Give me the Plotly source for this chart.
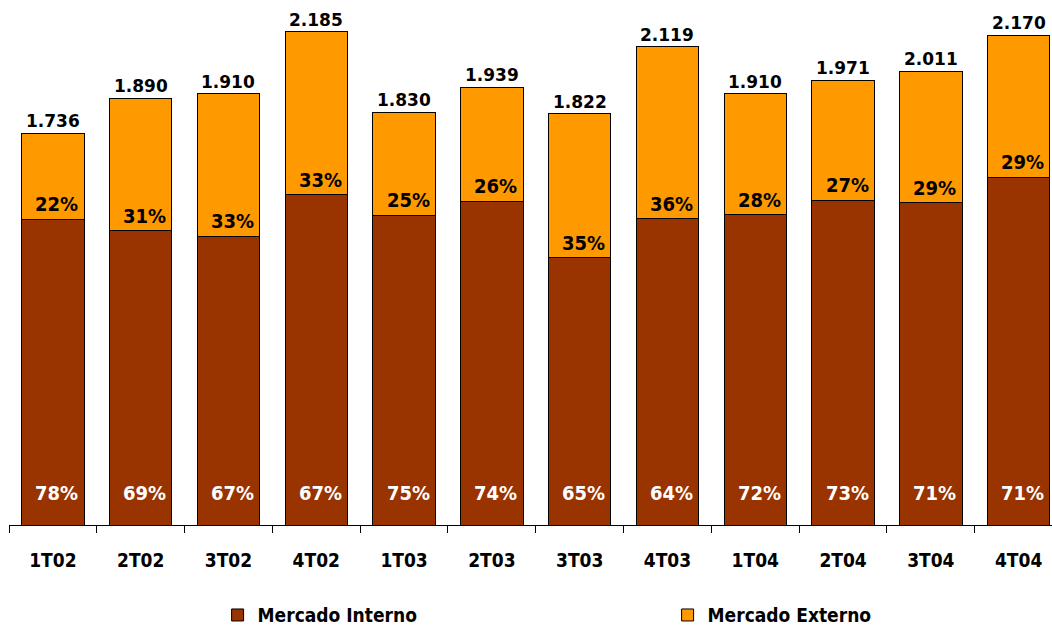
import plotly.graph_objects as go

categories = ["1T02", "2T02", "3T02", "4T02", "1T03", "2T03", "3T03", "4T03", "1T04", "2T04", "3T04", "4T04"]
totals = [1.736, 1.890, 1.910, 2.185, 1.830, 1.939, 1.822, 2.119, 1.910, 1.971, 2.011, 2.170]
total_labels = ["1.736", "1.890", "1.910", "2.185", "1.830", "1.939", "1.822", "2.119", "1.910", "1.971", "2.011", "2.170"]
interno = [1.354, 1.304, 1.280, 1.464, 1.373, 1.435, 1.184, 1.356, 1.375, 1.439, 1.428, 1.541]
externo = [0.382, 0.586, 0.630, 0.721, 0.457, 0.504, 0.638, 0.763, 0.535, 0.532, 0.583, 0.629]
pct_interno = ["78%", "69%", "67%", "67%", "75%", "74%", "65%", "64%", "72%", "73%", "71%", "71%"]
pct_externo = ["22%", "31%", "33%", "33%", "25%", "26%", "35%", "36%", "28%", "27%", "29%", "29%"]

FONT = "DejaVu Sans"
FONT_C = "DejaVu Sans Condensed, DejaVu Sans"

fig = go.Figure()
fig.add_trace(go.Bar(x=categories, y=interno, name="Mercado Interno",
                     marker=dict(color="#993300", line=dict(color="#000000", width=1))))
fig.add_trace(go.Bar(x=categories, y=externo, name="Mercado Externo",
                     marker=dict(color="#FF9900", line=dict(color="#000000", width=1))))

annotations = []
for c, t, tl, i, pi, pe in zip(categories, totals, total_labels, interno, pct_interno, pct_externo):
    annotations.append(dict(x=c, y=t, text=tl, showarrow=False, yanchor="bottom", yshift=0,
                            font=dict(family=FONT, size=17, color="#000000", weight="bold")))
    annotations.append(dict(x=c, y=i, text=pe, showarrow=False, yanchor="bottom", yshift=1, xshift=4,
                            font=dict(family=FONT_C, size=20, color="#000000", weight="bold")))
    annotations.append(dict(x=c, y=0, text=pi, showarrow=False, yanchor="bottom", yshift=18, xshift=4,
                            font=dict(family=FONT_C, size=20, color="#FFFFFF", weight="bold")))

fig.update_layout(
    width=1052, height=625,
    margin=dict(l=9, r=0, t=10, b=100, autoexpand=False),
    barmode="stack", bargap=0.29,
    paper_bgcolor="#FFFFFF", plot_bgcolor="#FFFFFF",
    showlegend=True,
    legend=dict(orientation="h", x=0.2, y=-0.175, xanchor="left", yanchor="middle",
                traceorder="normal", entrywidth=405, entrywidthmode="pixels",
                font=dict(family=FONT_C, size=19, color="#000000", weight="bold")),
    annotations=annotations,
    xaxis=dict(range=[-0.5, 11.38], showline=True, linecolor="#000000", linewidth=1,
               ticks="outside", tickson="boundaries", ticklen=7, tickcolor="#000000",
               ticklabelstandoff=18, showgrid=False, automargin=False,
               tickfont=dict(family=FONT_C, size=19, color="#000000", weight="bold")),
    yaxis=dict(range=[0, 2.282], visible=False, showgrid=False, zeroline=False, automargin=False),
)

fig.write_html("out.html", config={"displayModeBar": False},
               post_script="document.body.style.margin='0';document.body.style.overflow='hidden';")
